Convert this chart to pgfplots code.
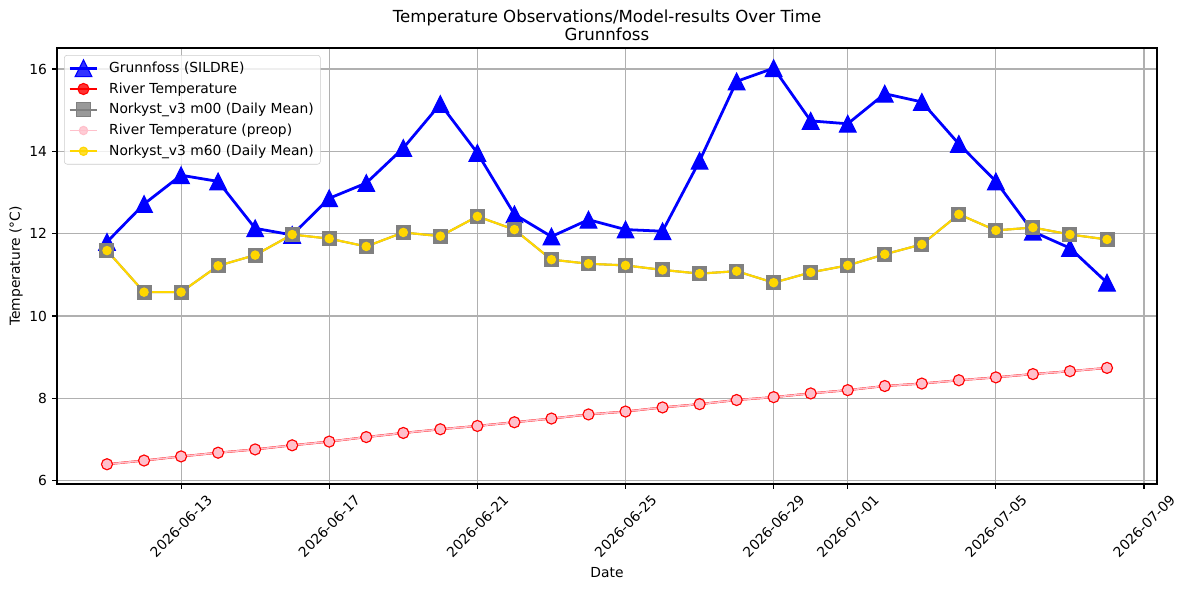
\documentclass[border=0pt]{standalone}
\usepackage{fontspec}
\setmainfont{DejaVu Sans}
\usepackage{pgfplots}
\usepackage{pgfplotstable}
\pgfplotsset{compat=1.18}

\definecolor{cpink}{RGB}{255,192,203}
\definecolor{cgold}{RGB}{255,215,0}
\definecolor{cgrey}{RGB}{128,128,128}
\definecolor{cgrid}{RGB}{176,176,176}
\definecolor{cleg}{RGB}{204,204,204}

\pgfdeclareplotmark{mtri}{%
  \pgfpathmoveto{\pgfqpoint{0pt}{\pgfplotmarksize}}%
  \pgfpathlineto{\pgfqpoint{-\pgfplotmarksize}{-\pgfplotmarksize}}%
  \pgfpathlineto{\pgfqpoint{\pgfplotmarksize}{-\pgfplotmarksize}}%
  \pgfpathclose
  \pgfusepathqfillstroke}

\pgfplotstableread{
x sildre river m00 preop m60
0 11.80 6.40 11.59 6.40 11.59
1 12.72 6.49 10.58 6.49 10.58
2 13.42 6.59 10.58 6.59 10.58
3 13.27 6.68 11.22 6.68 11.22
4 12.13 6.76 11.48 6.76 11.48
5 11.97 6.86 11.98 6.86 11.98
6 12.86 6.95 11.88 6.95 11.88
7 13.23 7.06 11.69 7.06 11.69
8 14.08 7.16 12.03 7.16 12.03
9 15.15 7.25 11.94 7.25 11.94
10 13.96 7.33 12.42 7.33 12.42
11 12.47 7.42 12.10 7.42 12.10
12 11.93 7.51 11.37 7.51 11.37
13 12.34 7.61 11.27 7.61 11.27
14 12.10 7.68 11.23 7.68 11.23
15 12.06 7.78 11.12 7.78 11.12
16 13.77 7.86 11.03 7.86 11.03
17 15.70 7.96 11.09 7.96 11.09
18 16.02 8.03 10.81 8.03 10.81
19 14.74 8.12 11.06 8.12 11.06
20 14.67 8.20 11.23 8.20 11.23
21 15.40 8.30 11.50 8.30 11.50
22 15.20 8.36 11.74 8.36 11.74
23 14.18 8.44 12.47 8.44 12.47
24 13.27 8.51 12.08 8.51 12.08
25 12.05 8.59 12.15 8.59 12.15
26 11.65 8.66 11.98 8.66 11.98
27 10.81 8.74 11.86 8.74 11.86
}\data

\begin{document}
\begin{tikzpicture}
\useasboundingbox (-41.04bp,-76.32bp) rectangle (813.6bp,348.48bp);
\begin{axis}[
  at={(0,0)}, anchor=south west,
  scale only axis, width=792bp, height=313.9bp,
  xmin=-1.35, xmax=28.35, ymin=5.92, ymax=16.51,
  xtick={2,6,10,14,18,20,24,28},
  xticklabels={\rotatebox{45}{2026-06-13},\rotatebox{45}{2026-06-17},\rotatebox{45}{2026-06-21},\rotatebox{45}{2026-06-25},\rotatebox{45}{2026-06-29},\rotatebox{45}{2026-07-01},\rotatebox{45}{2026-07-05},\rotatebox{45}{2026-07-09}},
  ytick={6,8,10,12,14,16},
  xtick pos=lower, ytick pos=left,
  /pgf/number format/assume math mode=true,
  tick label style={font=\fontsize{10}{12}\selectfont},
  xticklabel style={anchor=north, inner sep=0pt, yshift=-3.5bp},
  yticklabel style={anchor=east, inner sep=0pt, xshift=-3.5bp},
  grid=major,
  grid style={color=cgrid, line width=0.8bp},
  axis line style={line width=0.8bp},
  tick align=outside,
  major tick length=3.5bp,
  tick style={black, line width=0.8bp},
  minor tick num=0,
  title={Temperature Observations/Model-results Over Time\\Grunnfoss},
  title style={at={(axis description cs:0.5,1)}, anchor=south, align=center, inner sep=0pt, yshift=-1bp, font=\fontsize{12}{12.8}\selectfont},
  xlabel={Date},
  xlabel style={at={(axis description cs:0.5,-0.202)}, anchor=center, font=\fontsize{10}{12}\selectfont},
  ylabel={Temperature (°C)},
  ylabel style={at={(axis description cs:-0.0373,0.5)}, anchor=center, font=\fontsize{10}{12}\selectfont},
  legend cell align=left,
  legend style={at={(axis description cs:0.0064,0.984)}, anchor=north west,
    draw=cleg, fill=white, fill opacity=0.8, text opacity=1, draw opacity=1,
    rounded corners=2bp, font=\fontsize{10}{12}\selectfont, row sep=1.9bp, inner sep=2.8bp,
    /tikz/every odd column/.style={column sep=5.5bp}},
  legend image code/.code={\draw[mark repeat=2,mark phase=2,#1] plot coordinates {(0bp,0bp) (10bp,0bp) (20bp,0bp)};},
]
\addplot[color=blue, line width=2bp, mark=mtri, mark size=6bp, mark options={solid, fill=blue, draw=blue, line width=0.8bp}] table[x=x,y=sildre]{\data};
\addlegendentry{Grunnfoss (SILDRE)}
\addplot[color=red, line width=1.5bp, mark=*, mark size=4bp, mark options={solid, fill=red, draw=red, line width=0.8bp}] table[x=x,y=river]{\data};
\addlegendentry{River Temperature}
\addplot[color=cgrey, line width=1.5bp, mark=square*, mark size=5bp, mark options={solid, fill=cgrey, draw=cgrey, line width=0.8bp}] table[x=x,y=m00]{\data};
\addlegendentry{Norkyst\_v3 m00 (Daily Mean)}
\addplot[color=cpink, line width=1.2bp, mark=*, mark size=3bp, mark options={solid, fill=cpink, draw=cpink, line width=0.8bp}] table[x=x,y=preop]{\data};
\addlegendentry{River Temperature (preop)}
\addplot[color=cgold, line width=1.5bp, mark=*, mark size=3bp, mark options={solid, fill=cgold, draw=cgold, line width=0.8bp}] table[x=x,y=m60]{\data};
\addlegendentry{Norkyst\_v3 m60 (Daily Mean)}
\end{axis}
\end{tikzpicture}
\end{document}
